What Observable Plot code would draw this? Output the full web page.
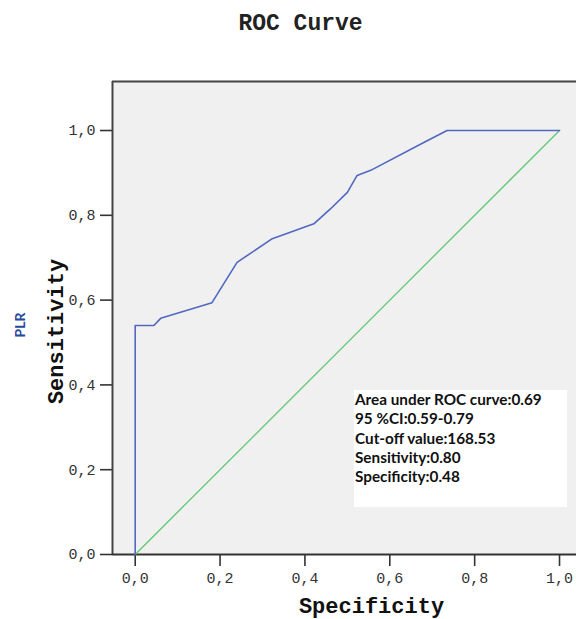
<!DOCTYPE html>
<html>
<head>
<meta charset="utf-8">
<script src="https://cdn.jsdelivr.net/npm/d3@7"></script>
<script src="https://cdn.jsdelivr.net/npm/@observablehq/plot@0.6"></script>
<style>
  body { margin: 0; background: #fff; }
  #wrap { position: relative; width: 576px; height: 619px; overflow: hidden; }
  #note {
    position: absolute; left: 354px; top: 390px; width: 213px; height: 117px;
    background: #fff; box-sizing: border-box; padding: 0 0 0 1px;
    font: bold 15.3px Lato, "Open Sans", sans-serif; color: #111; line-height: 19.3px;
  }
</style>
</head>
<body>
<div id="wrap"></div>
<script>
// ROC curve points
const specificity = [0, 0, 0.044, 0.060, 0.181, 0.240, 0.323, 0.421, 0.460, 0.500, 0.523, 0.555, 0.688, 0.735, 1.0];
const sensitivity = [0, 0.540, 0.540, 0.557, 0.594, 0.689, 0.745, 0.780, 0.815, 0.854, 0.894, 0.906, 0.976, 1.0, 1.0];
// reference diagonal
const refX = [0, 1];
const refY = [0, 1];
// ticks
const tickValues = [0, 0.2, 0.4, 0.6, 0.8, 1.0];
// texts
const titleText = "ROC Curve";
const xLabel = "Specificity";
const yLabel = "Sensitivity";
const seriesName = "PLR";
const noteLines = [
  "Area under ROC curve:0.69",
  "95 %CI:0.59-0.79",
  "Cut-off value:168.53",
  "Sensitivity:0.80",
  "Specificity:0.48"
];

const roc = specificity.map((x, i) => ({x, y: sensitivity[i]}));
const diag = refX.map((x, i) => ({x, y: refY[i]}));
const fmt = d => d.toFixed(1).replace(".", ",");

const xDom = [-0.0535, 1.04];
const yDom = [0, 1.1156];

const chart = Plot.plot({
  width: 576,
  height: 619,
  marginTop: 81,
  marginLeft: 112,
  marginRight: 0,
  marginBottom: 65,
  style: { fontFamily: "Liberation Mono", fontSize: "15px", background: "#fff", color: "#333", overflow: "visible" },
  x: { domain: xDom },
  y: { domain: yDom },
  marks: [
    Plot.frame({ fill: "#f0f0f0", stroke: null }),
    Plot.axisX(tickValues, { tickSize: 12, tickPadding: 6, tickFormat: fmt, label: null, stroke: "#333", strokeWidth: 1.6, fill: "#333" }),
    Plot.axisY(tickValues, { tickSize: 12, tickPadding: 5, tickFormat: fmt, label: null, stroke: "#333", strokeWidth: 1.6, fill: "#333" }),
    Plot.ruleY([yDom[1]], { stroke: "#444", strokeWidth: 2 }),
    Plot.ruleX([xDom[0]], { stroke: "#444", strokeWidth: 2 }),
    Plot.ruleY([0], { stroke: "#333", strokeWidth: 2 }),
    Plot.line(diag, { x: "x", y: "y", stroke: "#5cc870", strokeWidth: 1.3 }),
    Plot.line(roc, { x: "x", y: "y", stroke: "#5068c0", strokeWidth: 1.6 })
  ]
});

const wrap = document.getElementById("wrap");
wrap.appendChild(chart);

const svg = d3.select(chart);
svg.append("text")
  .attr("x", 300.5).attr("y", 30)
  .attr("text-anchor", "middle")
  .style("font", "bold 23px 'Liberation Mono'")
  .attr("fill", "#222")
  .text(titleText);
svg.append("text")
  .attr("x", 371.5).attr("y", 613)
  .attr("text-anchor", "middle")
  .style("font", "bold 22px 'Liberation Mono'")
  .attr("fill", "#111")
  .text(xLabel);
svg.append("text")
  .attr("transform", "translate(63,331.5) rotate(-90)")
  .attr("text-anchor", "middle")
  .style("font", "bold 22px 'Liberation Mono'")
  .attr("fill", "#111")
  .text(yLabel);
svg.append("text")
  .attr("transform", "translate(25,325) rotate(-90)")
  .attr("text-anchor", "middle")
  .style("font", "bold 14px Lato, sans-serif")
  .attr("fill", "#27479a")
  .text(seriesName);

const note = document.createElement("div");
note.id = "note";
note.innerHTML = noteLines.map(s => `<div>${s}</div>`).join("");
wrap.appendChild(note);
</script>
</body>
</html>
